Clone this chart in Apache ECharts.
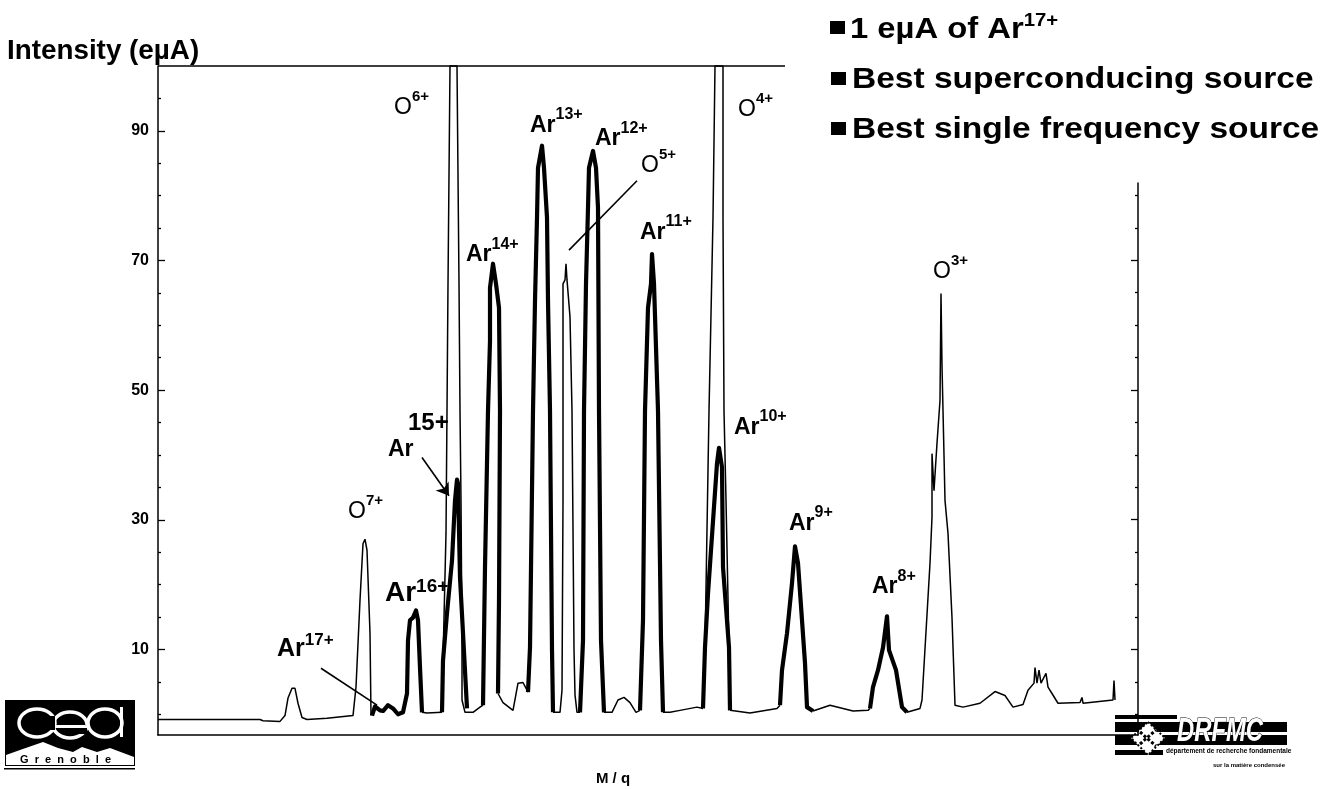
<!DOCTYPE html>
<html><head><meta charset="utf-8">
<style>html,body{margin:0;padding:0;background:#fff}#c{width:1332px;height:789px}</style>
<script src="https://cdn.jsdelivr.net/npm/echarts@6/dist/echarts.min.js"></script>
</head><body><div id="c"></div>
<script>
// x is an uncalibrated M/q position, y is intensity in eµA
const thinLeft=[[0,-.8],[102,-.8],[105,-1],[122,-1.1],[127,-.2],[130,2.5],[134,4],[137,4],[140,1.7],[144,-.5],[149,-.8],[169,-.6],[195,-.2],[198,4.2],[202,17.6],[205,26.3],[207,27],[209,25.3],[212,12.5],[213,-.2]];
const thinAr16to15=[[264,.3],[269,.2],[284,.3]];
const o6Peak=[[285,8.3],[288,27.9],[289,46.8],[290,66.4],[292,100],[299,100],[301,66.4],[302,46.8],[303,33],[304,10.6],[304,2.2],[307,.3],[315,.3],[322,1.1],[325,1.4]];
const thinAr14to13=[[340,3.2],[345,1.8],[355,.6],[360,4.8],[365,4.9],[370,3.4]];
const o5Peak=[[395,.3],[402,.3],[404,3.7],[405,33],[405,66.4],[407,67],[408,69.5],[409,67],[412,61.3],[414,46.8],[416,10],[417,3],[419,.3],[422,.3]];
const thinAr12to11=[[446,.3],[447,.2],[454,.3],[460,2.2],[466,2.6],[472,1.8],[478,.3],[482,.6]];
const thinAr11to10=[[505,.3],[512,.3],[522,.6],[539,1.1],[545,.9]];
const o4Peak=[[547,10.3],[551,46.8],[555,76.6],[557,100],[565,100],[565,76.6],[566,46.8],[568,33],[571,10.3]];
const thinAr10to9=[[572,.6],[592,.2],[619,.9],[622,1.4]];
const thinAr9to8=[[655,.5],[672,1.4],[695,.5],[710,.6],[712,.9]];
const o3AndTail=[[749,.3],[762,.9],[764,2.2],[770,18],[772,23.3],[774,30.4],[774,40.2],[776,34.5],[779,41.8],[782,48.4],[783,64.9],[784,53.8],[787,33],[790,27.9],[794,14.9],[797,1.4],[805,1.1],[822,1.7],[837,3.5],[847,2.9],[855,1.1],[865,1.5],[870,3.7],[876,4.8],[877,7.2],[879,4.8],[881,6.8],[883,4.8],[888,6.3],[890,4.2],[894,3.2],[900,1.7],[922,1.8],[924,2.6],[925,1.7],[955,2.2],[956,5.2],[957,2.2]];
const ar17to16=[[214,-.2],[217,1.2],[222,.6],[225,.5],[230,1.4],[235,.9],[240,0],[245,.3],[249,3.2],[250,11.4],[252,14.5],[255,14.9],[258,16],[260,14.5],[262,7.2],[264,.3]];
const ar15=[[284,.3],[285,8.3],[289,15.6],[294,23.7],[297,33],[299,36.2],[300,35.6],[302,21.1],[305,12.5],[309,.9]];
const ar14=[[325,1.4],[327,22.7],[330,46.8],[332,57.6],[332,65.8],[335,69.5],[338,66.4],[341,62.7],[342,46.8],[341,17.6],[340,3.2]];
const ar13=[[370,3.4],[372,10.3],[375,46.8],[377,63.8],[379,76.6],[380,84.3],[384,87.7],[386,84.3],[389,76.6],[390,63.8],[392,46.8],[394,9.9],[395,.3]];
const ar12=[[422,.3],[425,11.4],[426,46.8],[428,66.4],[430,78.1],[431,84.3],[435,86.9],[438,84.3],[440,78.1],[441,46.8],[443,11.4],[446,.3]];
const ar11=[[482,.6],[485,14.5],[487,46.8],[490,62.7],[493,66.4],[494,71],[496,66.4],[500,46.8],[503,11.4],[505,.3]];
const ar10=[[545,.9],[547,10.3],[550,18.6],[559,38.7],[561,41.1],[564,38.1],[565,22.7],[571,10.3],[572,.6]];
const ar9=[[622,1.4],[624,6.8],[629,12.5],[634,20.2],[637,25.9],[640,23.3],[644,14.5],[647,7.9],[649,1.1],[655,.5]];
const ar8=[[712,.9],[715,4.2],[720,6.8],[725,10.3],[729,15.1],[731,9.9],[738,6.8],[744,1.1],[749,.3]];
const topBorder=[[0,100],[627,100]];
const yLabelTicks=[10,30,50,70,90];
const yMinorTicks=[0,5,15,20,25,35,40,45,55,60,65,75,80,85,95];
const yRightMajor=[10,30,50,70];
const yRightMinor=[0,5,15,20,25,35,40,45,55,60,65,75,80];
const arLabels=[['Ar','17+',119,10.4,'l'],['Ar','16+',227,18.8,'x'],['Ar','14+',308,71.4,''],['Ar','13+',372,91.4,''],['Ar','12+',437,89.3,''],['Ar','11+',482,74.9,''],['Ar','10+',576,44.8,''],['Ar','9+',631,30,''],['Ar','8+',714,20.2,'']];
const arPlain=[['Ar',230,41.3]];
const oLabels=[['O','7+',190,31.8],['O','6+',236,94.1],['O','5+',483,85.2],['O','4+',580,93.8],['O','3+',775,68.8]];
const extraLabels=[['15+',250,44.9]];
const leaderLines=[[[163,7.1],[219,1.4]],[[411,71.6],[479,82.3]]];
const arrowLine=[[264,39.6],[291,33.7]];
const bulletLines=[['1 eµA of Ar','17+'],['Best superconducing source',''],['Best single frequency source','']];
const axisTitle='Intensity (eµA)';
const FONT='"Liberation Sans",Arial,sans-serif';
const thin=[thinLeft,thinAr16to15,o6Peak,thinAr14to13,o5Peak,thinAr12to11,thinAr11to10,o4Peak,thinAr10to9,thinAr9to8,o3AndTail,topBorder];
const thick=[ar17to16,ar15,ar14,ar13,ar12,ar11,ar10,ar9,ar8];
const series=[];
thin.forEach(d=>series.push({type:'line',data:d,symbol:'none',clip:false,silent:true,animation:false,lineStyle:{color:'#000',width:1.5}}));
thick.forEach(d=>series.push({type:'line',data:d,symbol:'none',clip:false,silent:true,animation:false,lineStyle:{color:'#000',width:4.2,join:'round'}}));
series.push({type:'line',data:[],symbol:'none',silent:true,animation:false,
  markLine:{silent:true,animation:false,symbol:'none',label:{show:false},lineStyle:{color:'#000',width:1.6,type:'solid'},
    data:leaderLines.map(l=>[{coord:l[0]},{coord:l[1]}]).concat([[{coord:arrowLine[0],symbol:'none'},{coord:arrowLine[1],symbol:'arrow',symbolSize:12}]])}});
const bold=(s,extra={})=>({fontFamily:FONT,fontWeight:'bold',fontSize:s,color:'#000',lineHeight:30,...extra});
const rich={ar:bold(23,{verticalAlign:'bottom'}),arsup:bold(16,{verticalAlign:'top'}),
 arl:bold(25,{verticalAlign:'bottom'}),arlsup:bold(17,{verticalAlign:'top'}),
 arx:bold(28,{verticalAlign:'bottom'}),arxsup:bold(19,{verticalAlign:'top'}),
 o:{fontFamily:FONT,fontWeight:'normal',fontSize:23,color:'#000',lineHeight:30,verticalAlign:'bottom'},
 osup:bold(15,{verticalAlign:'top'}),big:bold(24)};
const pt=(text,x,y)=>({value:[x,y],txt:text});
const labelData=[...arLabels.map(l=>pt(`{ar${l[4]}|${l[0]}}{ar${l[4]}sup|${l[1]}}`,l[2],l[3])),
 ...arPlain.map(l=>pt(`{ar|${l[0]}}`,l[1],l[2])),
 ...oLabels.map(l=>pt(`{o|${l[0]}}{osup|${l[1]}}`,l[2],l[3])),
 ...extraLabels.map(l=>pt(`{big|${l[0]}}`,l[1],l[2]))];
series.push({type:'scatter',data:labelData,symbolSize:0,silent:true,animation:false,clip:false,itemStyle:{opacity:1},
 label:{show:true,position:'right',distance:0,color:'#000',opacity:1,formatter:p=>p.data.txt,rich}});
const yBase=(grid,pos)=>({type:'value',gridIndex:grid,position:pos,splitLine:{show:false},axisLabel:{show:false},axisLine:{show:false,onZero:false}});
const graphic=[];
const rectG=(x,y,w,h,fill='#000')=>({type:'rect',shape:{x,y,width:w,height:h},style:{fill},silent:true});
graphic.push({type:'text',x:7,y:38,scaleX:1.03,silent:true,style:{text:axisTitle,fontFamily:FONT,fontWeight:'bold',fontSize:27,fill:'#000'}});
// bullet block
[[830,21,37,1.13],[831,72,87,1.155],[831,122,137,1.155]].forEach((p,i)=>{
  graphic.push(rectG(p[0],p[1],15,13));
  graphic.push({type:'text',x:p[0]===830?850:852,y:p[2]-25,scaleX:p[3],silent:true,style:{
    text:`{m|${bulletLines[i][0]}}`+(bulletLines[i][1]?`{s|${bulletLines[i][1]}}`:''),
    rich:{m:{fontFamily:FONT,fontWeight:'bold',fontSize:29,fill:'#000',lineHeight:32,verticalAlign:'bottom'},
          s:{fontFamily:FONT,fontWeight:'bold',fontSize:18,fill:'#000',lineHeight:32,verticalAlign:'top'}}}});
});
// CEA logo
graphic.push(rectG(5,700,130,66));
const ring=(cx,cy,rx,ry)=>({type:'ellipse',shape:{cx,cy,rx,ry},style:{fill:'none',stroke:'#fff',lineWidth:3.5},silent:true});
graphic.push(ring(37,723,18,14),ring(70,725,17,13),ring(105,723,17,14));
graphic.push(rectG(46,716,9,14));
graphic.push(rectG(55,725,30,3,'#fff'));
graphic.push(rectG(78,728,9,6));
graphic.push(rectG(120,707,3,30,'#fff'));
graphic.push({type:'polygon',shape:{points:[[6,755],[20,750],[43,742],[58,748],[73,752],[82,747],[97,752],[110,748],[134,757],[134,765],[6,765]]},style:{fill:'#fff'},silent:true});
graphic.push({type:'text',x:20,y:754,silent:true,style:{text:'G  r  e  n  o  b  l  e',fontFamily:FONT,fontWeight:'bold',fontSize:11,fill:'#000'}});
graphic.push(rectG(4,768,131,1.5));
// DRFMC logo
graphic.push(rectG(1108,713,185,60,'#fff'));
[[1115,715,62,4],[1115,722,172,10],[1115,735,172,10],[1115,750,48,5]].forEach(s=>graphic.push(rectG(...s)));
graphic.push({type:'polygon',shape:{points:[[1148,722],[1165,738],[1148,755],[1131,738]]},style:{fill:'#fff',stroke:'#000',lineWidth:2,lineDash:[2,2]},silent:true});
graphic.push({type:'line',shape:{x1:1140,y1:732,x2:1156,y2:746},style:{stroke:'#000',lineWidth:3,lineDash:[3,2]},silent:true});
graphic.push({type:'line',shape:{x1:1140,y1:744,x2:1156,y2:730},style:{stroke:'#000',lineWidth:3,lineDash:[3,2]},silent:true});
graphic.push({type:'text',x:1177,y:715,scaleX:.7,silent:true,style:{text:'DRFMC',fontFamily:FONT,fontWeight:'bold',fontStyle:'italic',fontSize:34,fill:'#fff',stroke:'#000',lineWidth:1}});
graphic.push({type:'text',x:1166,y:748,silent:true,style:{text:'département de recherche fondamentale',fontFamily:FONT,fontWeight:'bold',fontSize:6.5,fill:'#000'}});
graphic.push({type:'text',x:1213,y:762,silent:true,style:{text:'sur la matière condensée',fontFamily:FONT,fontWeight:'bold',fontSize:6,fill:'#000'}});

const chart=echarts.init(document.getElementById('c'),null,{renderer:'canvas'});
chart.setOption({animation:false,backgroundColor:'#fff',
 grid:[{left:158,top:66,width:980,height:669,outerBoundsMode:'none'},{left:158,top:183,width:980,height:552,outerBoundsMode:'none'}],
 xAxis:[{type:'value',gridIndex:0,min:0,max:980,name:'M / q',nameLocation:'middle',nameGap:36,
   nameTextStyle:{fontFamily:FONT,fontWeight:'bold',fontSize:15,color:'#000',padding:[0,70,0,0]},
   axisLine:{onZero:false,lineStyle:{color:'#000',width:1.5}},axisTick:{show:false},axisLabel:{show:false},splitLine:{show:false}},
  {type:'value',gridIndex:1,min:0,max:980,show:false}],
 yAxis:[
  {type:'value',gridIndex:0,min:-3.2,max:100,position:'left',
   splitLine:{show:false},axisLine:{show:true,onZero:false,lineStyle:{color:'#000',width:1.5}},
   axisTick:{show:true,inside:true,length:7,customValues:yLabelTicks,lineStyle:{color:'#000',width:1.3}},
   axisLabel:{show:true,customValues:yLabelTicks,margin:9,fontFamily:FONT,fontWeight:'bold',fontSize:16,color:'#000'}},
  {...yBase(0,'left'),min:-3.2,max:100,axisTick:{show:true,inside:true,length:3,customValues:yMinorTicks,lineStyle:{color:'#000',width:1.3}}},
  {type:'value',gridIndex:1,min:-3.2,max:81.9,position:'right',splitLine:{show:false},axisLabel:{show:false},
   axisLine:{show:true,onZero:false,lineStyle:{color:'#000',width:1.5}},
   axisTick:{show:true,inside:true,length:7,customValues:yRightMajor,lineStyle:{color:'#000',width:1.3}}},
  {...yBase(1,'right'),min:-3.2,max:81.9,axisTick:{show:true,inside:true,length:3,customValues:yRightMinor,lineStyle:{color:'#000',width:1.3}}}
 ],
 series,graphic});
</script></body></html>
